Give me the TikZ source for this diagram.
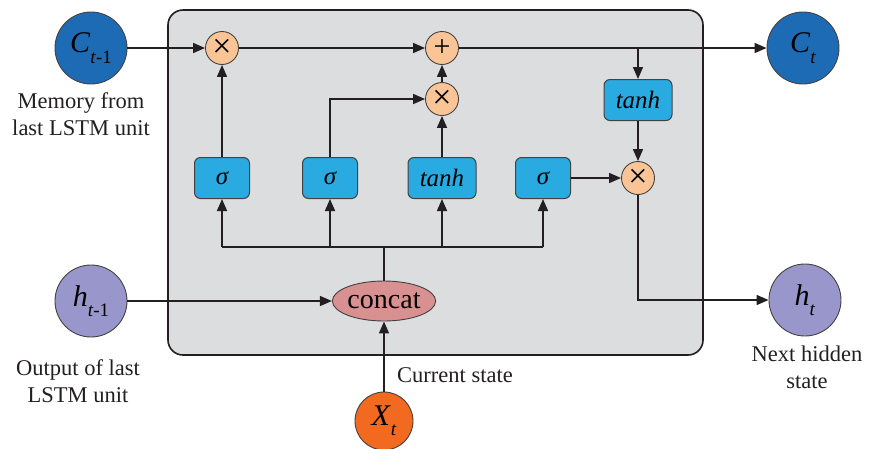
\documentclass[tikz,border=0pt]{standalone}
\usepackage{fontspec}
\setmainfont{Liberation Serif}
\usetikzlibrary{arrows.meta,shapes.geometric}
\definecolor{cellgray}{HTML}{DCDDDF}
\definecolor{cdark}{HTML}{1E6BB5}
\definecolor{hcol}{HTML}{9896CA}
\definecolor{xcol}{HTML}{F26A1F}
\definecolor{catcol}{HTML}{D99090}
\definecolor{opfill}{HTML}{F9C596}
\definecolor{gatefill}{HTML}{29ABE2}
\definecolor{linecol}{HTML}{231F20}
\tikzset{
  bigc/.style={circle, draw=linecol!85, line width=0.9pt, minimum size=72pt, inner sep=0pt, font=\fontsize{30}{32}\selectfont},
  opnode/.style={circle, draw=linecol!85, fill=opfill, line width=0.9pt, minimum size=33pt, inner sep=0pt, font=\fontsize{34}{34}\selectfont},
  gatebox/.style={rectangle, rounded corners=6pt, draw=linecol!85, fill=gatefill, line width=1pt, minimum height=41pt, inner sep=0pt, font=\fontsize{25}{25}\selectfont\itshape},
  lbl/.style={align=center, font=\fontsize{22.5}{27}\selectfont, text=linecol},
  ln/.style={line width=1.6pt, draw=linecol},
  arr/.style={line width=1.6pt, draw=linecol, -{Triangle[length=12pt,width=10pt]}}
}
\newcommand{\subt}[1]{\raisebox{-0.35em}{\fontsize{19}{19}\selectfont #1}}
\begin{document}
\begin{tikzpicture}[x=1pt,y=-1pt]
\useasboundingbox (0,0) rectangle (873,448);
% cell
\node[draw=linecol, fill=cellgray, line width=1.6pt, rounded corners=15pt, minimum width=535pt, minimum height=345pt, inner sep=0pt] (cell) at (435.5,182.5) {};
% outer circles
\node[bigc, fill=cdark] (c0) at (91,48) {\textit{C}\subt{\textit{t}-1}};
\node[bigc, fill=cdark] (c1) at (803,48) {\textit{C}\subt{\textit{t}}};
\node[bigc, fill=hcol] (h0) at (91,301) {\textit{h}\subt{\textit{t}-1}};
\node[bigc, fill=hcol] (h1) at (805,300) {\textit{h}\subt{\textit{t}}};
\node[bigc, fill=xcol, minimum size=58pt] (x) at (384,421) {\textit{X}\subt{\textit{t}}};
% operators
\node[opnode] (m1) at (222,48) {×};
\node[opnode, font=\fontsize{30}{30}\selectfont] (p) at (442,48) {+};
\node[opnode] (m2) at (442,99) {×};
\node[opnode] (m3) at (638,178) {×};
% gates
\node[gatebox, minimum width=55pt] (s1) at (222,178) {σ};
\node[gatebox, minimum width=55pt] (s2) at (330,178) {σ};
\node[gatebox, minimum width=68pt] (tg) at (442,178) {tanh};
\node[gatebox, minimum width=55pt] (s3) at (543,178) {σ};
\node[gatebox, minimum width=68pt] (tc) at (638,100) {tanh};
% concat
\node[ellipse, draw=linecol!85, fill=catcol, line width=0.9pt, minimum width=98pt, minimum height=40pt, inner sep=0pt, font=\fontsize{28}{28}\selectfont] (cc) at (384,301) {concat};
% labels
\node[lbl] (l1) at (81,114) {Memory from\\last LSTM unit};
\node[lbl] (l2) at (78,381) {Output of last\\LSTM unit};
\node[lbl] (l3) at (807,367) {Next hidden\\state};
\node[lbl] (l4) at (455,375) {Current state};
% coordinates
\coordinate (bus) at (384,247);
\coordinate (b1) at (222,247);
\coordinate (b2) at (330,247);
\coordinate (b3) at (442,247);
\coordinate (b4) at (543,247);
\coordinate (br) at (638,48);
% connectors
\draw[arr] (c0) -- (m1);
\draw[arr] (m1) -- (p);
\draw[arr] (p) -- (c1);
\draw[arr] (br) -- (tc);
\draw[arr] (tc) -- (m3);
\draw[arr] (s3) -- (m3);
\draw[arr] (m3.south) |- (h1.west);
\draw[arr] (s1) -- (m1);
\draw[arr] (s2.north) |- (m2.west);
\draw[arr] (tg) -- (m2);
\draw[arr] (m2) -- (p);
\draw[ln] (cc.north) -- (bus);
\draw[ln] (b1) -- (b4);
\draw[arr] (b1) -- (s1);
\draw[arr] (b2) -- (s2);
\draw[arr] (b3) -- (tg);
\draw[arr] (b4) -- (s3);
\draw[arr] (h0) -- (cc);
\draw[arr] (x) -- (cc);
\end{tikzpicture}
\end{document}
